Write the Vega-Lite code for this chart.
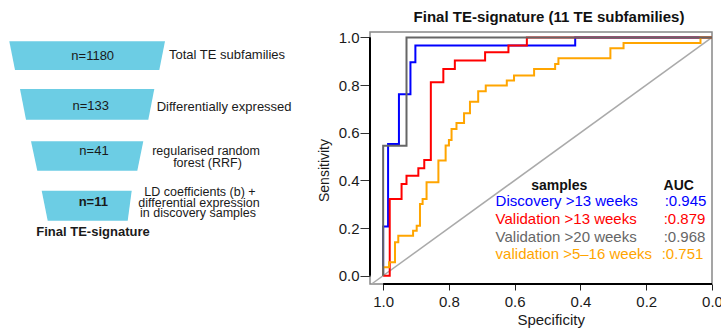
{
  "$schema": "https://vega.github.io/schema/vega-lite/v6.json",
  "padding": {"left": 0, "top": 9, "right": 0, "bottom": 0},
  "background": "white",
  "config": {"font": "Liberation Sans", "view": {"stroke": null}},
  "spacing": 16,
  "datasets": {
    "shapes": [
      {"stage": 1, "y": 9.3, "xl": 9.3, "xr": 165},
      {"stage": 1, "y": 38, "xl": 15, "xr": 159.3},
      {"stage": 2, "y": 57, "xl": 20, "xr": 154.3},
      {"stage": 2, "y": 87.7, "xl": 26, "xr": 148.3},
      {"stage": 3, "y": 109.3, "xl": 31, "xr": 143.3},
      {"stage": 3, "y": 138.7, "xl": 37.3, "xr": 137.3},
      {"stage": 4, "y": 158.7, "xl": 41.7, "xr": 131.7},
      {"stage": 4, "y": 188.7, "xl": 47.7, "xr": 127.7}
    ],
    "counts": [
      {"stage": 1, "label": "n=1180", "x": 92.7, "y": 23.7},
      {"stage": 2, "label": "n=133", "x": 90.7, "y": 73.7},
      {"stage": 3, "label": "n=41", "x": 94, "y": 118.7},
      {"stage": 4, "label": "n=11", "x": 93.3, "y": 170.3}
    ],
    "descLeft": [
      {"label": "Total TE subfamilies", "x": 169, "y": 23},
      {"label": "Differentially expressed", "x": 156.7, "y": 75.3}
    ],
    "descCenter": [
      {"label": "regularised random", "x": 206, "y": 118.7},
      {"label": "forest (RRF)", "x": 207.5, "y": 131},
      {"label": "LD coefficients (b) +", "x": 200, "y": 160.3},
      {"label": "differential expression", "x": 199, "y": 171},
      {"label": "in discovery samples", "x": 198, "y": 181.3}
    ],
    "roc": [
      {"g": "Discovery >13 weeks", "i": 1, "spec": 1, "sens": 0},
      {"g": "Discovery >13 weeks", "i": 2, "spec": 1, "sens": 0.206},
      {"g": "Discovery >13 weeks", "i": 3, "spec": 0.985, "sens": 0.206},
      {"g": "Discovery >13 weeks", "i": 4, "spec": 0.985, "sens": 0.553},
      {"g": "Discovery >13 weeks", "i": 5, "spec": 0.952, "sens": 0.553},
      {"g": "Discovery >13 weeks", "i": 6, "spec": 0.952, "sens": 0.762},
      {"g": "Discovery >13 weeks", "i": 7, "spec": 0.917, "sens": 0.762},
      {"g": "Discovery >13 weeks", "i": 8, "spec": 0.917, "sens": 0.896},
      {"g": "Discovery >13 weeks", "i": 9, "spec": 0.902, "sens": 0.896},
      {"g": "Discovery >13 weeks", "i": 10, "spec": 0.902, "sens": 0.966},
      {"g": "Discovery >13 weeks", "i": 11, "spec": 0.416, "sens": 0.966},
      {"g": "Discovery >13 weeks", "i": 12, "spec": 0.416, "sens": 1},
      {"g": "Discovery >13 weeks", "i": 13, "spec": 0, "sens": 1},
      {"g": "Validation >13 weeks", "i": 1, "spec": 1, "sens": 0},
      {"g": "Validation >13 weeks", "i": 2, "spec": 0.98, "sens": 0},
      {"g": "Validation >13 weeks", "i": 3, "spec": 0.98, "sens": 0.322},
      {"g": "Validation >13 weeks", "i": 4, "spec": 0.944, "sens": 0.322},
      {"g": "Validation >13 weeks", "i": 5, "spec": 0.944, "sens": 0.385},
      {"g": "Validation >13 weeks", "i": 6, "spec": 0.929, "sens": 0.385},
      {"g": "Validation >13 weeks", "i": 7, "spec": 0.929, "sens": 0.42},
      {"g": "Validation >13 weeks", "i": 8, "spec": 0.893, "sens": 0.42},
      {"g": "Validation >13 weeks", "i": 9, "spec": 0.893, "sens": 0.451},
      {"g": "Validation >13 weeks", "i": 10, "spec": 0.875, "sens": 0.451},
      {"g": "Validation >13 weeks", "i": 11, "spec": 0.875, "sens": 0.486},
      {"g": "Validation >13 weeks", "i": 12, "spec": 0.855, "sens": 0.486},
      {"g": "Validation >13 weeks", "i": 13, "spec": 0.855, "sens": 0.812},
      {"g": "Validation >13 weeks", "i": 14, "spec": 0.817, "sens": 0.812},
      {"g": "Validation >13 weeks", "i": 15, "spec": 0.817, "sens": 0.868},
      {"g": "Validation >13 weeks", "i": 16, "spec": 0.782, "sens": 0.868},
      {"g": "Validation >13 weeks", "i": 17, "spec": 0.782, "sens": 0.903},
      {"g": "Validation >13 weeks", "i": 18, "spec": 0.69, "sens": 0.903},
      {"g": "Validation >13 weeks", "i": 19, "spec": 0.69, "sens": 0.938},
      {"g": "Validation >13 weeks", "i": 20, "spec": 0.619, "sens": 0.938},
      {"g": "Validation >13 weeks", "i": 21, "spec": 0.619, "sens": 0.966},
      {"g": "Validation >13 weeks", "i": 22, "spec": 0.563, "sens": 0.966},
      {"g": "Validation >13 weeks", "i": 23, "spec": 0.563, "sens": 1},
      {"g": "Validation >13 weeks", "i": 24, "spec": 0, "sens": 1},
      {"g": "validation >5–16 weeks", "i": 1, "spec": 1, "sens": 0},
      {"g": "validation >5–16 weeks", "i": 2, "spec": 1, "sens": 0.035},
      {"g": "validation >5–16 weeks", "i": 3, "spec": 0.982, "sens": 0.035},
      {"g": "validation >5–16 weeks", "i": 4, "spec": 0.982, "sens": 0.056},
      {"g": "validation >5–16 weeks", "i": 5, "spec": 0.964, "sens": 0.056},
      {"g": "validation >5–16 weeks", "i": 6, "spec": 0.964, "sens": 0.14},
      {"g": "validation >5–16 weeks", "i": 7, "spec": 0.954, "sens": 0.14},
      {"g": "validation >5–16 weeks", "i": 8, "spec": 0.954, "sens": 0.168},
      {"g": "validation >5–16 weeks", "i": 9, "spec": 0.909, "sens": 0.168},
      {"g": "validation >5–16 weeks", "i": 10, "spec": 0.909, "sens": 0.189},
      {"g": "validation >5–16 weeks", "i": 11, "spec": 0.898, "sens": 0.189},
      {"g": "validation >5–16 weeks", "i": 12, "spec": 0.898, "sens": 0.21},
      {"g": "validation >5–16 weeks", "i": 13, "spec": 0.888, "sens": 0.21},
      {"g": "validation >5–16 weeks", "i": 14, "spec": 0.888, "sens": 0.301},
      {"g": "validation >5–16 weeks", "i": 15, "spec": 0.88, "sens": 0.301},
      {"g": "validation >5–16 weeks", "i": 16, "spec": 0.88, "sens": 0.322},
      {"g": "validation >5–16 weeks", "i": 17, "spec": 0.868, "sens": 0.322},
      {"g": "validation >5–16 weeks", "i": 18, "spec": 0.868, "sens": 0.392},
      {"g": "validation >5–16 weeks", "i": 19, "spec": 0.832, "sens": 0.392},
      {"g": "validation >5–16 weeks", "i": 20, "spec": 0.832, "sens": 0.483},
      {"g": "validation >5–16 weeks", "i": 21, "spec": 0.81, "sens": 0.483},
      {"g": "validation >5–16 weeks", "i": 22, "spec": 0.81, "sens": 0.546},
      {"g": "validation >5–16 weeks", "i": 23, "spec": 0.8, "sens": 0.546},
      {"g": "validation >5–16 weeks", "i": 24, "spec": 0.8, "sens": 0.57},
      {"g": "validation >5–16 weeks", "i": 25, "spec": 0.792, "sens": 0.57},
      {"g": "validation >5–16 weeks", "i": 26, "spec": 0.792, "sens": 0.616},
      {"g": "validation >5–16 weeks", "i": 27, "spec": 0.777, "sens": 0.616},
      {"g": "validation >5–16 weeks", "i": 28, "spec": 0.777, "sens": 0.641},
      {"g": "validation >5–16 weeks", "i": 29, "spec": 0.754, "sens": 0.641},
      {"g": "validation >5–16 weeks", "i": 30, "spec": 0.754, "sens": 0.682},
      {"g": "validation >5–16 weeks", "i": 31, "spec": 0.736, "sens": 0.682},
      {"g": "validation >5–16 weeks", "i": 32, "spec": 0.736, "sens": 0.73},
      {"g": "validation >5–16 weeks", "i": 33, "spec": 0.711, "sens": 0.73},
      {"g": "validation >5–16 weeks", "i": 34, "spec": 0.711, "sens": 0.774},
      {"g": "validation >5–16 weeks", "i": 35, "spec": 0.688, "sens": 0.774},
      {"g": "validation >5–16 weeks", "i": 36, "spec": 0.688, "sens": 0.798},
      {"g": "validation >5–16 weeks", "i": 37, "spec": 0.624, "sens": 0.798},
      {"g": "validation >5–16 weeks", "i": 38, "spec": 0.624, "sens": 0.819},
      {"g": "validation >5–16 weeks", "i": 39, "spec": 0.602, "sens": 0.819},
      {"g": "validation >5–16 weeks", "i": 40, "spec": 0.602, "sens": 0.84},
      {"g": "validation >5–16 weeks", "i": 41, "spec": 0.541, "sens": 0.84},
      {"g": "validation >5–16 weeks", "i": 42, "spec": 0.541, "sens": 0.868},
      {"g": "validation >5–16 weeks", "i": 43, "spec": 0.477, "sens": 0.868},
      {"g": "validation >5–16 weeks", "i": 44, "spec": 0.477, "sens": 0.889},
      {"g": "validation >5–16 weeks", "i": 45, "spec": 0.467, "sens": 0.889},
      {"g": "validation >5–16 weeks", "i": 46, "spec": 0.467, "sens": 0.913},
      {"g": "validation >5–16 weeks", "i": 47, "spec": 0.309, "sens": 0.913},
      {"g": "validation >5–16 weeks", "i": 48, "spec": 0.309, "sens": 0.955},
      {"g": "validation >5–16 weeks", "i": 49, "spec": 0.269, "sens": 0.955},
      {"g": "validation >5–16 weeks", "i": 50, "spec": 0.269, "sens": 0.977},
      {"g": "validation >5–16 weeks", "i": 51, "spec": 0.035, "sens": 0.977},
      {"g": "validation >5–16 weeks", "i": 52, "spec": 0.035, "sens": 1},
      {"g": "validation >5–16 weeks", "i": 53, "spec": 0, "sens": 1},
      {"g": "Validation >20 weeks", "i": 1, "spec": 1, "sens": 0},
      {"g": "Validation >20 weeks", "i": 2, "spec": 1, "sens": 0.545},
      {"g": "Validation >20 weeks", "i": 3, "spec": 0.929, "sens": 0.545},
      {"g": "Validation >20 weeks", "i": 4, "spec": 0.929, "sens": 1},
      {"g": "Validation >20 weeks", "i": 5, "spec": 0, "sens": 1}
    ],
    "diag": [
      {"spec": 1.035, "sens": -0.035},
      {"spec": 0, "sens": 1}
    ],
    "legend": [
      {"g": "Discovery >13 weeks", "auc": ":0.945"},
      {"g": "Validation >13 weeks", "auc": ":0.879"},
      {"g": "Validation >20 weeks", "auc": ":0.968"},
      {"g": "validation >5–16 weeks", "auc": ":0.751"}
    ]
  },
  "hconcat": [
    {
      "width": 300,
      "height": 252,
      "layer": [
        {
          "data": {"name": "shapes"},
          "mark": {"type": "area", "orient": "horizontal", "color": "#6ccde4"},
          "encoding": {
            "y": {"field": "y", "type": "quantitative", "scale": {"domain": [0, 252], "reverse": true, "nice": false, "zero": false}, "axis": null},
            "x": {"field": "xl", "type": "quantitative", "stack": null, "scale": {"domain": [0, 300], "nice": false, "zero": false}, "axis": null},
            "x2": {"field": "xr"},
            "detail": {"field": "stage", "type": "nominal"}
          }
        },
        {
          "data": {"name": "counts"},
          "transform": [{"filter": "datum.stage < 4"}],
          "mark": {"type": "text", "fontSize": 13, "color": "#1a1a1a", "align": "center", "baseline": "middle"},
          "encoding": {
            "y": {"field": "y", "type": "quantitative", "scale": {"domain": [0, 252], "reverse": true, "nice": false, "zero": false}, "axis": null},
            "x": {"field": "x", "type": "quantitative", "scale": {"domain": [0, 300], "nice": false, "zero": false}, "axis": null},
            "text": {"field": "label"}
          }
        },
        {
          "data": {"name": "counts"},
          "transform": [{"filter": "datum.stage == 4"}],
          "mark": {"type": "text", "fontSize": 13, "fontWeight": "bold", "color": "#1a1a1a", "align": "center", "baseline": "middle"},
          "encoding": {
            "y": {"field": "y", "type": "quantitative", "scale": {"domain": [0, 252], "reverse": true, "nice": false, "zero": false}, "axis": null},
            "x": {"field": "x", "type": "quantitative", "scale": {"domain": [0, 300], "nice": false, "zero": false}, "axis": null},
            "text": {"field": "label"}
          }
        },
        {
          "data": {"name": "descLeft"},
          "mark": {"type": "text", "fontSize": 13, "color": "#1a1a1a", "align": "left", "baseline": "middle"},
          "encoding": {
            "y": {"field": "y", "type": "quantitative", "scale": {"domain": [0, 252], "reverse": true, "nice": false, "zero": false}, "axis": null},
            "x": {"field": "x", "type": "quantitative", "scale": {"domain": [0, 300], "nice": false, "zero": false}, "axis": null},
            "text": {"field": "label"}
          }
        },
        {
          "data": {"name": "descCenter"},
          "mark": {"type": "text", "fontSize": 12.5, "color": "#1a1a1a", "align": "center", "baseline": "middle"},
          "encoding": {
            "y": {"field": "y", "type": "quantitative", "scale": {"domain": [0, 252], "reverse": true, "nice": false, "zero": false}, "axis": null},
            "x": {"field": "x", "type": "quantitative", "scale": {"domain": [0, 300], "nice": false, "zero": false}, "axis": null},
            "text": {"field": "label"}
          }
        },
        {
          "data": {"values": [{"label": "Final TE-signature"}]},
          "mark": {"type": "text", "fontSize": 13, "fontWeight": "bold", "color": "#1a1a1a", "align": "center", "baseline": "middle"},
          "encoding": {
            "y": {"datum": 200.3, "type": "quantitative", "scale": {"domain": [0, 252], "reverse": true, "nice": false, "zero": false}, "axis": null},
            "x": {"datum": 93, "type": "quantitative", "scale": {"domain": [0, 300], "nice": false, "zero": false}, "axis": null},
            "text": {"field": "label"}
          }
        }
      ]
    },
    {
      "width": 342,
      "height": 252,
      "view": {"stroke": "#888888", "strokeWidth": 1.5, "fill": "white"},
      "title": {"text": "Final TE-signature (11 TE subfamilies)", "fontSize": 15, "fontWeight": "bold", "color": "#111111", "dx": 8, "offset": -7, "baseline": "alphabetic"},
      "layer": [
        {
          "data": {"name": "diag"},
          "mark": {"type": "line", "color": "#aaaaaa", "strokeWidth": 1.5},
          "encoding": {
            "x": {"field": "spec", "type": "quantitative", "scale": {"domain": [0, 1.04], "reverse": true, "nice": false, "zero": false},
              "axis": {"values": [1, 0.8, 0.6, 0.4, 0.2, 0], "format": ".1f", "domain": false, "grid": false, "tickSize": 6, "tickColor": "#222222", "labelFontSize": 15, "labelColor": "#1a1a1a", "labelPadding": 4.6, "labelFlush": false, "labelOverlap": false, "title": "Specificity", "titleFontSize": 15, "titleFontWeight": "normal", "titleColor": "#1a1a1a", "titleX": 180.7, "titleY": 40, "titleAlign": "center", "titleBaseline": "alphabetic"}},
            "y": {"field": "sens", "type": "quantitative", "scale": {"domain": [-0.035, 1.023], "nice": false, "zero": false},
              "axis": {"values": [0, 0.2, 0.4, 0.6, 0.8, 1], "format": ".1f", "domain": false, "grid": false, "tickSize": 10, "tickColor": "#333333", "labelFontSize": 15, "labelColor": "#1a1a1a", "labelPadding": 1, "labelFlush": false, "labelOverlap": false, "title": "Sensitivity", "titleFontSize": 14, "titleFontWeight": "normal", "titleColor": "#1a1a1a", "titleX": -46, "titleY": 138, "titleAngle": 270, "titleAlign": "center", "titleBaseline": "middle"}}
          }
        },
        {
          "data": {"name": "roc"},
          "mark": {"type": "line", "strokeWidth": 2},
          "encoding": {
            "x": {"field": "spec", "type": "quantitative", "scale": {"domain": [0, 1.04], "reverse": true, "nice": false, "zero": false}},
            "y": {"field": "sens", "type": "quantitative", "scale": {"domain": [-0.035, 1.023], "nice": false, "zero": false}},
            "color": {"field": "g", "type": "nominal", "scale": {"domain": ["Discovery >13 weeks", "Validation >13 weeks", "Validation >20 weeks", "validation >5–16 weeks"], "range": ["#0000ff", "#ff0000", "#666666", "#ffa500"]}, "legend": null},
            "order": {"field": "i", "type": "quantitative"}
          }
        },
        {
          "data": {"values": [{}]},
          "mark": {"type": "rule", "color": "black", "strokeWidth": 2},
          "encoding": {
            "x": {"datum": 1, "type": "quantitative", "scale": {"domain": [0, 1.04], "reverse": true, "nice": false, "zero": false}},
            "x2": {"datum": 0},
            "y": {"datum": -0.035, "type": "quantitative", "scale": {"domain": [-0.035, 1.023], "nice": false, "zero": false}}
          }
        },
        {
          "data": {"values": [{}]},
          "mark": {"type": "rule", "color": "black", "strokeWidth": 2},
          "encoding": {
            "x": {"datum": 1.04, "type": "quantitative", "scale": {"domain": [0, 1.04], "reverse": true, "nice": false, "zero": false}},
            "y": {"datum": 0, "type": "quantitative", "scale": {"domain": [-0.035, 1.023], "nice": false, "zero": false}},
            "y2": {"datum": 1}
          }
        },
        {
          "data": {"values": [{"h": "samples"}]},
          "mark": {"type": "text", "fontSize": 14, "fontWeight": "bold", "color": "#111111", "align": "center", "baseline": "middle"},
          "encoding": {
            "x": {"datum": 0.4645, "type": "quantitative", "scale": {"domain": [0, 1.04], "reverse": true, "nice": false, "zero": false}},
            "y": {"datum": 0.378, "type": "quantitative", "scale": {"domain": [-0.035, 1.023], "nice": false, "zero": false}},
            "text": {"field": "h"}
          }
        },
        {
          "data": {"values": [{"h": "AUC"}]},
          "mark": {"type": "text", "fontSize": 14, "fontWeight": "bold", "color": "#111111", "align": "center", "baseline": "middle"},
          "encoding": {
            "x": {"datum": 0.101, "type": "quantitative", "scale": {"domain": [0, 1.04], "reverse": true, "nice": false, "zero": false}},
            "y": {"datum": 0.378, "type": "quantitative", "scale": {"domain": [-0.035, 1.023], "nice": false, "zero": false}},
            "text": {"field": "h"}
          }
        },
        {
          "data": {"name": "legend"},
          "transform": [{"filter": "datum.g == 'Discovery >13 weeks'"}],
          "encoding": {
            "y": {"datum": 0.315, "type": "quantitative", "scale": {"domain": [-0.035, 1.023], "nice": false, "zero": false}},
            "color": {"field": "g", "type": "nominal", "scale": {"domain": ["Discovery >13 weeks", "Validation >13 weeks", "Validation >20 weeks", "validation >5–16 weeks"], "range": ["#0000ff", "#ff0000", "#666666", "#ffa500"]}, "legend": null}
          },
          "layer": [
            {"mark": {"type": "text", "fontSize": 15, "align": "left", "baseline": "middle"},
             "encoding": {"x": {"datum": 0.658, "type": "quantitative", "scale": {"domain": [0, 1.04], "reverse": true, "nice": false, "zero": false}}, "text": {"field": "g"}}},
            {"mark": {"type": "text", "fontSize": 15, "align": "left", "baseline": "middle"},
             "encoding": {"x": {"datum": 0.144, "type": "quantitative", "scale": {"domain": [0, 1.04], "reverse": true, "nice": false, "zero": false}}, "text": {"field": "auc"}}}
          ]
        },
        {
          "data": {"name": "legend"},
          "transform": [{"filter": "datum.g == 'Validation >13 weeks'"}],
          "encoding": {
            "y": {"datum": 0.238, "type": "quantitative", "scale": {"domain": [-0.035, 1.023], "nice": false, "zero": false}},
            "color": {"field": "g", "type": "nominal", "scale": {"domain": ["Discovery >13 weeks", "Validation >13 weeks", "Validation >20 weeks", "validation >5–16 weeks"], "range": ["#0000ff", "#ff0000", "#666666", "#ffa500"]}, "legend": null}
          },
          "layer": [
            {"mark": {"type": "text", "fontSize": 15, "align": "left", "baseline": "middle"},
             "encoding": {"x": {"datum": 0.658, "type": "quantitative", "scale": {"domain": [0, 1.04], "reverse": true, "nice": false, "zero": false}}, "text": {"field": "g"}}},
            {"mark": {"type": "text", "fontSize": 15, "align": "left", "baseline": "middle"},
             "encoding": {"x": {"datum": 0.147, "type": "quantitative", "scale": {"domain": [0, 1.04], "reverse": true, "nice": false, "zero": false}}, "text": {"field": "auc"}}}
          ]
        },
        {
          "data": {"name": "legend"},
          "transform": [{"filter": "datum.g == 'Validation >20 weeks'"}],
          "encoding": {
            "y": {"datum": 0.164, "type": "quantitative", "scale": {"domain": [-0.035, 1.023], "nice": false, "zero": false}},
            "color": {"field": "g", "type": "nominal", "scale": {"domain": ["Discovery >13 weeks", "Validation >13 weeks", "Validation >20 weeks", "validation >5–16 weeks"], "range": ["#0000ff", "#ff0000", "#666666", "#ffa500"]}, "legend": null}
          },
          "layer": [
            {"mark": {"type": "text", "fontSize": 15, "align": "left", "baseline": "middle"},
             "encoding": {"x": {"datum": 0.658, "type": "quantitative", "scale": {"domain": [0, 1.04], "reverse": true, "nice": false, "zero": false}}, "text": {"field": "g"}}},
            {"mark": {"type": "text", "fontSize": 15, "align": "left", "baseline": "middle"},
             "encoding": {"x": {"datum": 0.147, "type": "quantitative", "scale": {"domain": [0, 1.04], "reverse": true, "nice": false, "zero": false}}, "text": {"field": "auc"}}}
          ]
        },
        {
          "data": {"name": "legend"},
          "transform": [{"filter": "datum.g == 'validation >5–16 weeks'"}],
          "encoding": {
            "y": {"datum": 0.091, "type": "quantitative", "scale": {"domain": [-0.035, 1.023], "nice": false, "zero": false}},
            "color": {"field": "g", "type": "nominal", "scale": {"domain": ["Discovery >13 weeks", "Validation >13 weeks", "Validation >20 weeks", "validation >5–16 weeks"], "range": ["#0000ff", "#ff0000", "#666666", "#ffa500"]}, "legend": null}
          },
          "layer": [
            {"mark": {"type": "text", "fontSize": 15, "align": "left", "baseline": "middle"},
             "encoding": {"x": {"datum": 0.658, "type": "quantitative", "scale": {"domain": [0, 1.04], "reverse": true, "nice": false, "zero": false}}, "text": {"field": "g"}}},
            {"mark": {"type": "text", "fontSize": 15, "align": "left", "baseline": "middle"},
             "encoding": {"x": {"datum": 0.153, "type": "quantitative", "scale": {"domain": [0, 1.04], "reverse": true, "nice": false, "zero": false}}, "text": {"field": "auc"}}}
          ]
        }
      ]
    }
  ]
}
